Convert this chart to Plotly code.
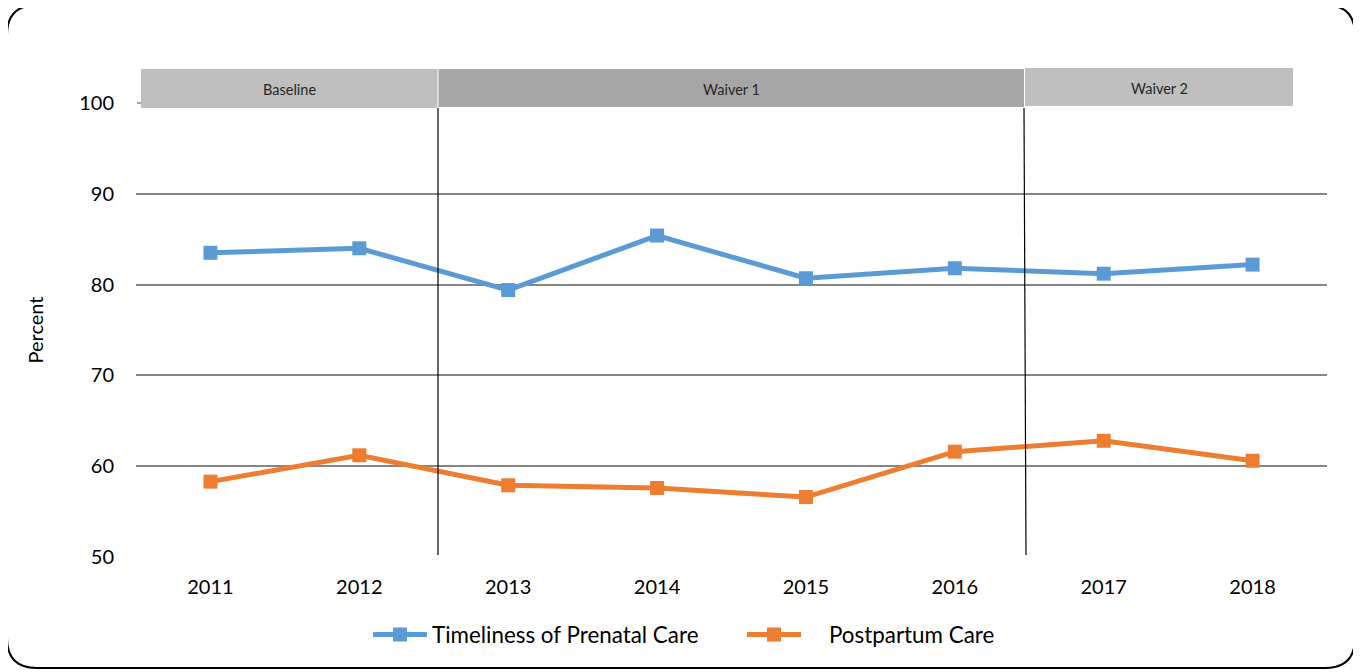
import plotly.graph_objects as go

years = ["2011", "2012", "2013", "2014", "2015", "2016", "2017", "2018"]
prenatal = [83.5, 84.0, 79.4, 85.4, 80.7, 81.8, 81.2, 82.2]
postpartum = [58.3, 61.2, 57.9, 57.6, 56.6, 61.6, 62.8, 60.6]
y_ticks = [50, 60, 70, 80, 90, 100]

periods = ["Baseline", "Waiver 1", "Waiver 2"]
period_colors = ["#bfbfbf", "#a6a6a6", "#bfbfbf"]

OFF = 8  # page body margin
W, H = 1361 - OFF, 672 - OFF
# plot area in screen pixels: x 136..1327.5, y 103..557
ML, MT = 136 - OFF, 103 - OFF
PW, PH = 1191, 454
MR = W - ML - PW
MB = H - MT - PH


def px(x):
    return (x - OFF - ML) / PW


def py(y):
    return (MT + PH - (y - OFF)) / PH


FONT = "Lato, 'Open Sans', sans-serif"

fig = go.Figure()
fig.add_trace(go.Scatter(
    x=years, y=prenatal, mode="lines+markers", name="Timeliness of Prenatal Care",
    line=dict(color="#5b9bd5", width=5),
    marker=dict(symbol="square", size=14, color="#5b9bd5"),
))
fig.add_trace(go.Scatter(
    x=years, y=postpartum, mode="lines+markers", name="    Postpartum Care",
    line=dict(color="#ed7d31", width=5),
    marker=dict(symbol="square", size=14, color="#ed7d31"),
))

shapes = []
# short stub of the 100 gridline left of the bands
shapes.append(dict(type="line", xref="paper", yref="paper", x0=px(137), x1=px(141),
                   y0=py(103), y1=py(103), line=dict(color="#868686", width=1.5)))
# period bands (pixel-measured extents -> paper coords)
band_px = [(141, 438, 69, 108), (438, 1024, 69, 107), (1025, 1293, 68, 106)]
annotations = []
for (x0, x1, y0, y1), name, col in zip(band_px, periods, period_colors):
    shapes.append(dict(type="rect", xref="paper", yref="paper",
                       x0=px(x0), x1=px(x1), y0=py(y1), y1=py(y0),
                       fillcolor=col, line=dict(width=0), layer="above"))
    annotations.append(dict(xref="paper", yref="paper", x=px((x0 + x1) / 2),
                            y=py((y0 + y1) / 2 + 1), text=name, showarrow=False,
                            font=dict(family=FONT, size=14.5, color="#262626"),
                            xanchor="center", yanchor="middle"))
# white separators between bands
for xs in (438, 1024.5):
    shapes.append(dict(type="line", xref="paper", yref="paper",
                       x0=px(xs), x1=px(xs), y0=py(108), y1=py(68),
                       line=dict(color="white", width=1), layer="above"))

# period boundary lines
for xb, xt in ((438, 438), (1026, 1024)):
    shapes.append(dict(type="line", xref="paper", yref="paper",
                       x0=px(xb), x1=px(xt), y0=py(555), y1=py(108),
                       line=dict(color="black", width=1.2), layer="above"))

# rounded outer border
L, R, T, B = px(7), px(1355), py(5), py(668)
rx, ry = 30 / PW, 30 / PH
path = (f"M{L+rx},{T} L{R-rx},{T} Q{R},{T} {R},{T-ry} L{R},{B+ry} Q{R},{B} {R-rx},{B} "
        f"L{L+rx},{B} Q{L},{B} {L},{B+ry} L{L},{T-ry} Q{L},{T} {L+rx},{T} Z")
shapes.append(dict(type="path", xref="paper", yref="paper", path=path,
                   line=dict(color="black", width=2), layer="above"))

fig.update_layout(
    width=W, height=H,
    margin=dict(l=ML, r=MR, t=MT, b=MB, autoexpand=False),
    paper_bgcolor="white", plot_bgcolor="white",
    font=dict(family=FONT, size=20, color="#000000"),
    shapes=shapes, annotations=annotations,
    showlegend=True,
    legend=dict(orientation="h", x=px(368), y=py(635), xanchor="left", yanchor="middle",
                itemwidth=54, font=dict(family=FONT, size=22.4, color="#000000"),
                entrywidth=305, entrywidthmode="pixels", bgcolor="rgba(0,0,0,0)"),
    xaxis=dict(type="category", range=[-0.5, 7.5], showgrid=False, ticks="",
               showline=False, zeroline=False, ticklabelstandoff=16,
               tickfont=dict(family=FONT, size=20)),
    yaxis=dict(range=[50, 100], tickvals=y_ticks, showgrid=True, gridcolor="#868686",
               gridwidth=1.5, zeroline=False, showline=False, ticks="",
               ticklabelstandoff=21, tickfont=dict(family=FONT, size=20),
               title=dict(text="Percent", standoff=30, font=dict(family=FONT, size=20))),
)

fig.write_html("out.html")
